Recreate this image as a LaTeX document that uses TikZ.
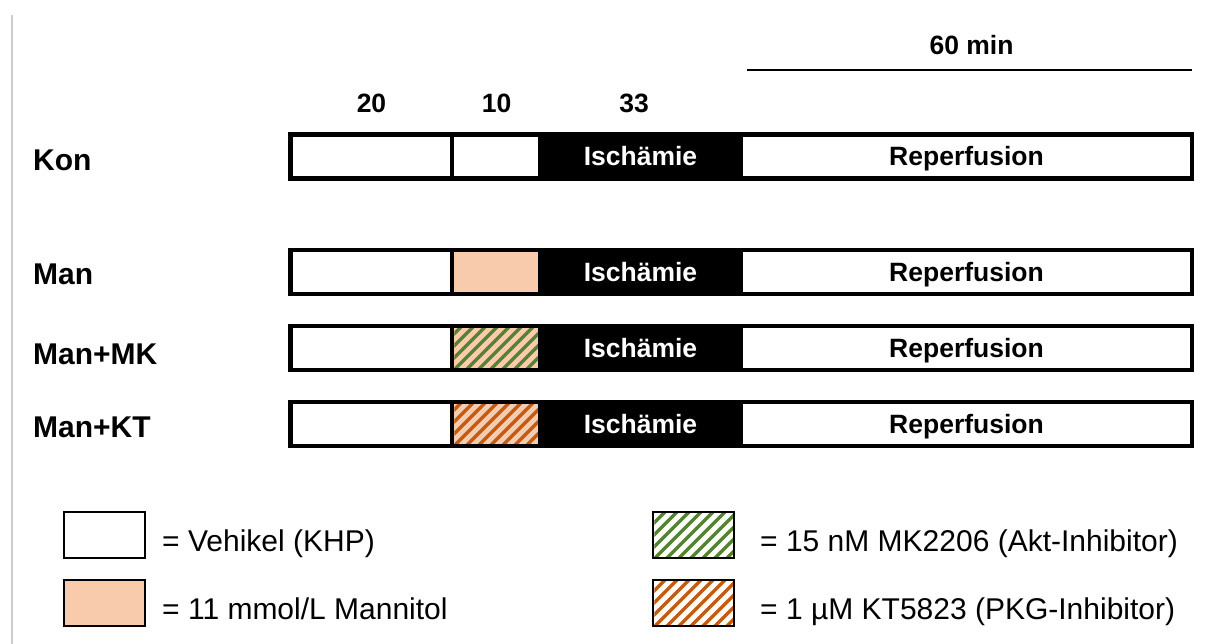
\documentclass[tikz,border=0pt]{standalone}
\usepackage{fontspec}
\setmainfont{Liberation Sans}
\definecolor{peach}{HTML}{F8CBAD}
\definecolor{hgreen}{HTML}{548235}
\definecolor{horange}{HTML}{C55A11}
\definecolor{sidegray}{HTML}{CCCCCC}
\newcommand\labfont{\fontsize{30}{34}\selectfont\bfseries}
\newcommand\barfont{\fontsize{26.5}{30}\selectfont\bfseries}
\newcommand\legfont{\fontsize{30}{34}\selectfont}
% hatch a rectangle region x1,y1,x2,y2 with colour
\newcommand\hatchrect[5]{%
  \begin{scope}
    \clip (#1,#2) rectangle (#3,#4);
    \foreach \s in {-72,-60,...,120}
      \draw[#5, line width=3.2] ({#1+\s},{#4+2}) -- ++(64,-64);
  \end{scope}}
\tikzset{
  seg/.style={draw=black, line width=4.5, minimum height=44, inner sep=0, outer sep=0, fill=white, text height=19, text depth=0},
  rowlab/.style={anchor=base west, inner sep=0, font=\labfont},
  numlab/.style={anchor=base, inner sep=0, font=\barfont},
  legbox/.style={draw=black, line width=2.5, minimum width=81, minimum height=46, inner sep=0, outer sep=0},
  legtext/.style={anchor=base west, inner sep=0, font=\legfont}
}
\newcommand\mkbar[3]{%
  \node[seg, minimum width=161.5, anchor=west] (#1a) at (290.5,#2) {};
  \node[seg, minimum width=88, anchor=west, #3] (#1b) at (452,#2) {};
  \node[seg, minimum width=201, anchor=west, fill=black, text=white, font=\barfont] (#1c) at (540,#2) {Ischämie};
  \node[seg, minimum width=451, anchor=west, font=\barfont] (#1d) at (741,#2) {Reperfusion};
}
\begin{document}
\begin{tikzpicture}[x=1pt, y=-1pt]
\useasboundingbox[fill=white] (0,0) rectangle (1216,644);
% faint side line
\coordinate (sideTop) at (12,15);
\coordinate (sideBot) at (12,644);
\draw[sidegray, line width=1.3] (sideTop) -- (sideBot);
% time header
\node[numlab] (t60) at (971.5,55) {60 min};
\coordinate (lineL) at (747,70);
\coordinate (lineR) at (1192,70);
\draw[line width=2] (lineL) -- (lineR);
\node[numlab] (t20) at (371.5,113) {20};
\node[numlab] (t10) at (496.5,113) {10};
\node[numlab] (t33) at (634,113) {33};
% rows
\node[rowlab] (lKon) at (33,171) {Kon};
\node[rowlab] (lMan) at (33,285) {Man};
\node[rowlab] (lMK) at (33,365) {Man+MK};
\node[rowlab] (lKT) at (33,437) {Man+KT};
\mkbar{kon}{156.5}{fill=white}
\mkbar{man}{272}{fill=peach}
\mkbar{mk}{348}{fill=peach}
\mkbar{kt}{424}{fill=peach}
\hatchrect{454.25}{328.25}{537.75}{367.75}{hgreen}
\hatchrect{454.25}{404.25}{537.75}{443.75}{horange}
% legend
\node[legbox, fill=white] (lgV) at (104.5,535) {};
\node[legbox, fill=peach] (lgM) at (104.5,603) {};
\node[legbox, fill=white] (lgG) at (693.5,535) {};
\node[legbox, fill=white] (lgO) at (693.5,603) {};
\hatchrect{654.25}{513.25}{732.75}{556.75}{hgreen}
\hatchrect{654.25}{581.25}{732.75}{624.75}{horange}
\draw[line width=2.5] (lgG.north west) rectangle (lgG.south east);
\draw[line width=2.5] (lgO.north west) rectangle (lgO.south east);
\node[legtext] (txV) at (162,551) {= Vehikel (KHP)};
\node[legtext] (txM) at (162,619) {= 11 mmol/L Mannitol};
\node[legtext] (txG) at (760,551) {= 15 nM MK2206 (Akt-Inhibitor)};
\node[legtext] (txO) at (760,619) {= 1 µM KT5823 (PKG-Inhibitor)};
\end{tikzpicture}
\end{document}
